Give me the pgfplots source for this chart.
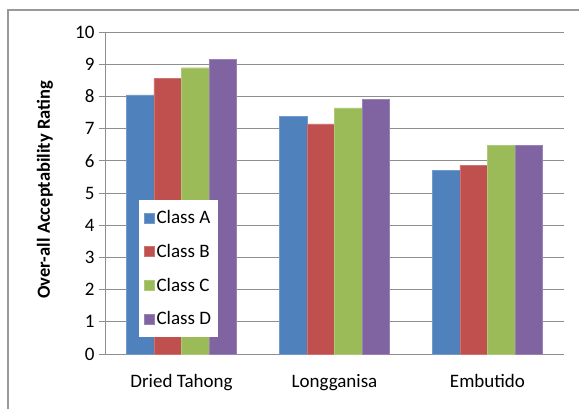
\documentclass[border=0pt]{standalone}
\usepackage{pgfplots}
\pgfplotsset{compat=1.18}
\usepackage{fontspec}
\setmainfont{Carlito}
\definecolor{cA}{HTML}{4F81BD}
\definecolor{cB}{HTML}{C0504D}
\definecolor{cC}{HTML}{9BBB59}
\definecolor{cD}{HTML}{8064A2}
\definecolor{gridc}{HTML}{8E8E8E}
\begin{document}
\begin{tikzpicture}[x=1pt,y=1pt]
\useasboundingbox (0,0) rectangle (579,408);
\draw[gridc!90, line width=1.4pt] (8,-20) rectangle (600,398);
\begin{axis}[
  at={(105pt,54pt)}, anchor=south west,
  scale only axis, width=459pt, height=322pt,
  ybar=0pt, bar width=0.18,
  xmin=-0.5, xmax=2.5, ymin=0, ymax=10,
  xtick={0,1,2},
  xticklabels={Dried Tahong,Longganisa,Embutido},
  major x tick style={draw=none},
  extra x ticks={-0.5,0.5,1.5,2.5},
  extra x tick labels={},
  extra x tick style={major tick length=6pt, tick style={gridc, line width=0.8pt}},
  ytick={0,1,...,10},
  tick align=outside,
  major tick length=6pt,
  y tick style={gridc, line width=0.8pt},
  ymajorgrids, grid style={gridc, line width=0.9pt},
  axis x line*=bottom, axis y line*=left,
  axis line style={gridc, line width=0.9pt, -},
  tick label style={font=\fontsize{19}{22}\selectfont},
  xticklabel style={yshift=-11pt},
  yticklabel style={xshift=-1pt},
  /pgf/number format/assume math mode=true,
  ylabel={\bfseries Over-all Acceptability Rating},
  ylabel style={font=\fontsize{18.5}{22}\selectfont, at={(axis description cs:-0.131,0.51)}, anchor=center},
  legend style={at={(rel axis cs:0.074,0.480)}, anchor=north west, draw=none, fill=white,
    font=\fontsize{19}{22}\selectfont, row sep=15pt, inner xsep=5pt, inner ysep=9pt,
    legend cell align=left},
  legend image code/.code={\fill[#1] (0pt,-5pt) rectangle (10pt,5pt);},
]
\addplot[fill=cA, draw=cA!80!white] coordinates {(0,8.05) (1,7.37) (2,5.70)};
\addplot[fill=cB, draw=cB!80!white] coordinates {(0,8.56) (1,7.15) (2,5.86)};
\addplot[fill=cC, draw=cC!80!white] coordinates {(0,8.89) (1,7.64) (2,6.48)};
\addplot[fill=cD, draw=cD!80!white] coordinates {(0,9.14) (1,7.90) (2,6.48)};
\legend{Class A,Class B,Class C,Class D}
\end{axis}
\end{tikzpicture}
\end{document}
